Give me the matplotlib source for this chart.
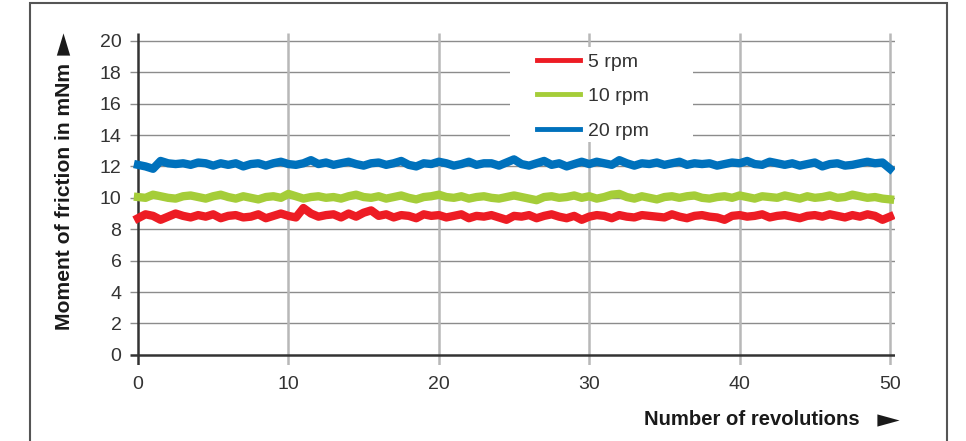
"""
Moment of friction versus number of revolutions at three speeds
"""

import numpy as np
import matplotlib.pyplot as plt
from matplotlib.patches import Rectangle
from matplotlib.lines import Line2D

revolutions = np.arange(0, 50.5, 0.5)

friction_5rpm = [
    8.7, 8.95, 8.85, 8.6, 8.8, 9.0, 8.85, 8.75, 8.9, 8.8,
    8.95, 8.7, 8.85, 8.9, 8.75, 8.8, 8.95, 8.7, 8.85, 9.0,
    8.85, 8.75, 9.35, 9.0, 8.8, 8.9, 8.95, 8.75, 9.0, 8.8,
    9.05, 9.2, 8.85, 8.95, 8.75, 8.9, 8.85, 8.7, 8.95, 8.85,
    8.9, 8.75, 8.85, 8.95, 8.7, 8.85, 8.8, 8.9, 8.75, 8.6,
    8.85, 8.8, 8.9, 8.7, 8.85, 8.95, 8.8, 8.7, 8.85, 8.6,
    8.8, 8.9, 8.85, 8.7, 8.9, 8.8, 8.75, 8.9, 8.85, 8.8,
    8.75, 8.95, 8.8, 8.7, 8.85, 8.9, 8.8, 8.75, 8.6, 8.85,
    8.9, 8.8, 8.85, 8.95, 8.75, 8.85, 8.9, 8.8, 8.7, 8.85,
    8.9, 8.8, 8.95, 8.85, 8.75, 8.9, 8.8, 8.95, 8.85, 8.6,
    8.8,
]

friction_10rpm = [
    10.05, 10.0, 10.2, 10.1, 10.0, 9.95, 10.1, 10.15, 10.05, 9.95,
    10.1, 10.2, 10.05, 9.95, 10.1, 10.0, 9.9, 10.05, 10.1, 10.0,
    10.25, 10.1, 9.95, 10.05, 10.1, 10.0, 10.05, 9.95, 10.1, 10.2,
    10.05, 10.0, 10.1, 9.95, 10.05, 10.15, 10.0, 9.9, 10.05, 10.1,
    10.2, 10.05, 10.0, 10.1, 9.95, 10.05, 10.1, 10.0, 9.95, 10.05,
    10.15, 10.05, 9.95, 9.85, 10.05, 10.1, 10.0, 10.05, 10.15, 10.0,
    10.1, 9.95, 10.05, 10.2, 10.25, 10.05, 9.95, 10.1, 10.0, 9.9,
    10.05, 10.1, 10.0, 10.1, 10.15, 10.0, 9.95, 10.05, 10.1, 10.0,
    10.15, 10.05, 9.95, 10.1, 10.05, 10.0, 10.15, 10.05, 9.95, 10.1,
    10.0, 10.05, 10.15, 10.0, 10.05, 10.2, 10.1, 10.0, 10.05, 9.95,
    9.9,
]

friction_20rpm = [
    12.1, 12.0, 11.85, 12.35, 12.2, 12.15, 12.2, 12.1, 12.25, 12.2,
    12.05, 12.2, 12.1, 12.2, 12.0, 12.15, 12.2, 12.05, 12.2, 12.3,
    12.15, 12.1, 12.2, 12.4, 12.15, 12.25, 12.1, 12.2, 12.3, 12.15,
    12.05, 12.2, 12.25, 12.1, 12.2, 12.35, 12.1, 12.0, 12.2, 12.15,
    12.3, 12.2, 12.05, 12.15, 12.3, 12.1, 12.2, 12.2, 12.05, 12.25,
    12.45, 12.15, 12.05, 12.2, 12.35, 12.1, 12.2, 12.0, 12.15, 12.3,
    12.15, 12.3, 12.2, 12.1, 12.4, 12.2, 12.05, 12.2, 12.15, 12.25,
    12.1, 12.2, 12.3, 12.1, 12.2, 12.15, 12.2, 12.05, 12.15, 12.25,
    12.2, 12.35, 12.15, 12.1, 12.3, 12.2, 12.1, 12.2, 12.05, 12.15,
    12.25, 12.0, 12.15, 12.2, 12.05, 12.1, 12.2, 12.3, 12.2, 12.25,
    11.85,
]

series_labels = ["5 rpm", "10 rpm", "20 rpm"]
series_colors = ["#ED1C24", "#A5CD39", "#0071BC"]

x_ticks = [0, 10, 20, 30, 40, 50]
y_ticks = list(range(0, 21, 2))

TEXT = "#333333"
LABEL = "#1a1a1a"

plt.rcParams['font.family'] = ['Liberation Sans', 'DejaVu Sans']

fig = plt.figure(figsize=(9.66, 4.41), dpi=100)
ax = fig.add_axes([0.1343, 0.1723, 0.7925, 0.7529])

x_lo, x_hi = -0.55, 50.35
y_lo, y_hi = -0.65, 20.5
ax.set_xlim(x_lo, x_hi)
ax.set_ylim(y_lo, y_hi)

for side in ax.spines.values():
    side.set_visible(False)

# grid: horizontal thin darker, vertical thicker lighter
ax.hlines(y_ticks[1:], x_lo, x_hi, color="#8c8c8c", lw=1.0, zorder=1)
ax.vlines(x_ticks[1:], y_lo, y_hi, color="#b8b8b8", lw=1.8, zorder=1)
ax.hlines(0, x_lo, x_hi, color="#333333", lw=1.8, zorder=2)
ax.vlines(0, y_lo, y_hi, color="#333333", lw=1.8, zorder=2)

for values, label, color in zip([friction_5rpm, friction_10rpm, friction_20rpm],
                                series_labels, series_colors):
    ax.plot(revolutions, values, color=color, lw=6, label=label,
            solid_joinstyle="round", zorder=4)

ax.set_xticks(x_ticks)
ax.set_yticks(y_ticks)
ax.tick_params(length=0, labelsize=14, colors=TEXT)
ax.tick_params(axis="x", pad=8)
ax.tick_params(axis="y", pad=6)

# white patch behind the legend, hiding the grid there
ax.add_patch(Rectangle((0.4967, 0.6717), 0.2391, 0.2861, transform=ax.transAxes,
                       facecolor="white", edgecolor="none", zorder=2.5))

leg = ax.legend(loc="upper left", bbox_to_anchor=(0.532, 0.940),
                borderaxespad=0, frameon=False,
                fontsize=14, labelcolor=TEXT, handlelength=2.2,
                handletextpad=0.4, labelspacing=0.88, borderpad=0)
leg.set_zorder(5)
for handle in leg.get_lines():
    handle.set_linewidth(3.5)

fig.text(860 / 966, 1 - 425 / 441, "Number of revolutions", ha="right",
         va="baseline", fontsize=14.6, fontweight="bold", color=LABEL)
fig.text(70 / 966, 1 - 196 / 441, "Moment of friction in mNm", ha="center",
         va="baseline", rotation=90, rotation_mode="anchor", fontsize=15.2,
         fontweight="bold", color=LABEL)

# arrow heads next to the axis titles
fig.add_artist(Line2D([887.5 / 966], [1 - 419.5 / 441], transform=fig.transFigure,
                      marker=[(-1, -0.55), (1, 0), (-1, 0.55)], markersize=16,
                      color=LABEL, markeredgewidth=0))
fig.add_artist(Line2D([63.5 / 966], [1 - 44 / 441], transform=fig.transFigure,
                      marker=[(-0.6, -1), (0, 1), (0.6, -1)], markersize=16,
                      color=LABEL, markeredgewidth=0))

# outer frame, open at the bottom edge
fig.patches.append(Rectangle((30 / 966, -0.1), 917 / 966, 1.1 - 3 / 441,
                             transform=fig.transFigure, fill=False,
                             edgecolor="#555555", lw=1.5))

fig.savefig("out.png", dpi=100)
